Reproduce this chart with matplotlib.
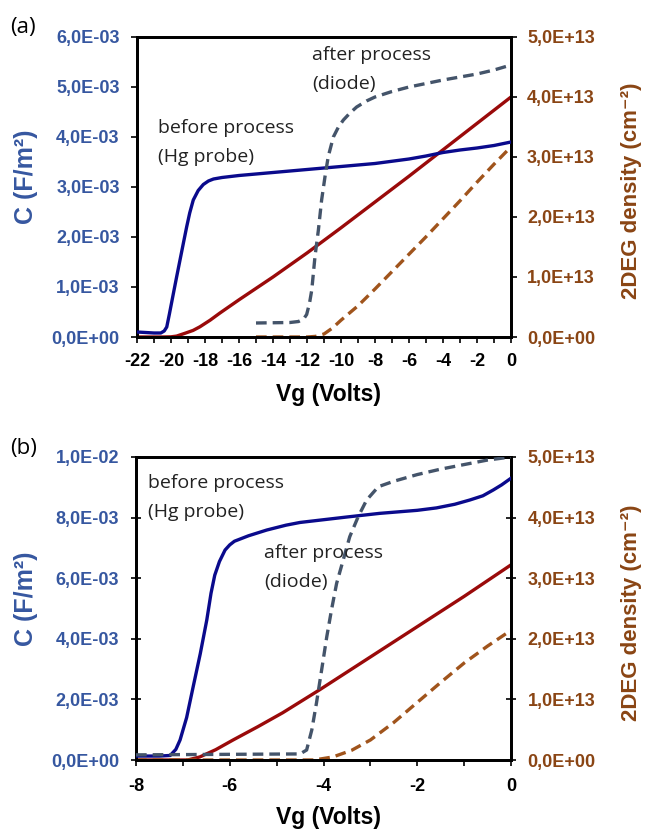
import matplotlib.pyplot as plt
from matplotlib.ticker import MultipleLocator, FuncFormatter

plt.rcParams['font.family'] = ['Liberation Sans', 'DejaVu Sans']
plt.rcParams['font.weight'] = 'bold'

# ---- panel (a): C in 1e-3 F/m2, N in 1e13 cm-2 ----
a_hg_c_v = [-22, -21.5, -21, -20.6, -20.4, -20.25, -20.1, -19.86, -19.67, -19.47,
            -19.27, -19.08, -18.9, -18.69, -18.4, -18.1, -17.8, -17.5, -17, -16,
            -14, -12, -10, -8, -6, -5, -4, -3, -2, -1, 0]
a_hg_c = [0.10, 0.09, 0.08, 0.08, 0.12, 0.2, 0.45, 0.87, 1.2, 1.54,
          1.88, 2.2, 2.48, 2.74, 2.93, 3.05, 3.12, 3.16, 3.19, 3.23,
          3.29, 3.35, 3.41, 3.47, 3.56, 3.62, 3.69, 3.74, 3.78, 3.83, 3.9]

a_di_c_v = [-15, -13, -12.5, -12.2, -12.02, -11.85, -11.72, -11.53, -11.33, -11.14,
            -10.94, -10.75, -10.45, -10.15, -9.86, -9.5, -9.08, -8.5, -8, -7,
            -6, -5, -4, -3, -2, -1, 0]
a_di_c = [0.28, 0.29, 0.31, 0.36, 0.45, 0.68, 0.94, 1.61, 2.14, 2.74,
          3.21, 3.61, 4.0, 4.2, 4.34, 4.47, 4.6, 4.72, 4.8, 4.91,
          5.0, 5.07, 5.14, 5.2, 5.26, 5.34, 5.44]

a_hg_n_v = [-22, -20.5, -20, -19.67, -19.2, -18.7, -18.3, -17.7, -17.12,
            -16, -14, -12, -10, -8, -6, -4, -2, 0]
a_hg_n = [0, 0, 0.003, 0.015, 0.06, 0.11, 0.17, 0.28, 0.4,
          0.62, 1.0, 1.4, 1.82, 2.25, 2.68, 3.12, 3.56, 4.0]

a_di_n_v = [-15, -12, -11.5, -11, -10.5, -10, -9, -8, -7, -6,
            -5, -4, -3, -2, -1, 0]
a_di_n = [0, 0, 0.01, 0.05, 0.15, 0.28, 0.52, 0.8, 1.09, 1.38,
          1.67, 1.97, 2.27, 2.58, 2.88, 3.17]

# ---- panel (b) ----
b_hg_c_v = [-8, -7.5, -7.27, -7.15, -7.06, -6.92, -6.78, -6.63, -6.49, -6.4,
            -6.32, -6.22, -6.1, -6.0, -5.9, -5.6, -5.21, -4.8, -4.5, -4,
            -3.5, -2.8, -2, -1.59, -1.2, -0.88, -0.6, -0.38, -0.2, 0]
b_hg_c = [0.13, 0.13, 0.15, 0.35, 0.66, 1.4, 2.42, 3.5, 4.62, 5.5,
          6.1, 6.55, 6.93, 7.1, 7.22, 7.4, 7.59, 7.75, 7.84, 7.93,
          8.02, 8.14, 8.24, 8.32, 8.44, 8.58, 8.72, 8.91, 9.08, 9.3]

b_di_c_v = [-8, -4.5, -4.36, -4.25, -4.15, -4.04, -3.93, -3.83, -3.72, -3.58,
            -3.44, -3.26, -3.08, -2.83, -2.5, -2, -1.5, -1, -0.5, 0]
b_di_c = [0.17, 0.2, 0.33, 0.99, 1.88, 2.97, 4.07, 4.95, 5.83, 6.6,
          7.37, 8.03, 8.58, 9.02, 9.2, 9.42, 9.6, 9.75, 9.9, 10.0]

b_hg_n_v = [-8, -6.9, -6.64, -6.3, -5.93, -5.4, -4.87, -4.08, -3, -2, -1, 0]
b_hg_n = [0, 0, 0.05, 0.17, 0.33, 0.55, 0.78, 1.16, 1.7, 2.2, 2.7, 3.22]

b_di_n_v = [-8, -4.2, -3.8, -3.4, -3, -2.5, -2, -1.5, -1, -0.5, 0]
b_di_n = [0, 0, 0.05, 0.16, 0.33, 0.62, 0.95, 1.28, 1.6, 1.88, 2.14]

# colours
c_blue = '#0a0a8c'
c_gray = '#44546a'
c_red = '#9a0a0a'
c_brown = '#a0541c'
lab_blue = '#3657a0'
lab_brown = '#8a4514'
txt_col = '#222222'

W, H = 646, 830


def px(x, y):
    return x / W, 1 - y / H


def sci_fmt(x, pos):
    return ('%.1E' % x).replace('.', ',')


def make_panel(box, xlim, cmax, cstep, data, tickdir, pads):
    left, top, right, bottom = box
    ax = fig.add_axes([left / W, 1 - bottom / H, (right - left) / W, (bottom - top) / H])
    ax2 = ax.twinx()
    hg_c_v, hg_c, di_c_v, di_c, hg_n_v, hg_n, di_n_v, di_n = data

    ax.plot(hg_c_v, [v * 1e-3 for v in hg_c], color=c_blue, lw=2.4, zorder=3)
    ax.plot(di_c_v, [v * 1e-3 for v in di_c], color=c_gray, lw=2.4,
            dashes=(3.2, 1.8), zorder=3)
    ax2.plot(hg_n_v, [v * 1e13 for v in hg_n], color=c_red, lw=2.4)
    ax2.plot(di_n_v, [v * 1e13 for v in di_n], color=c_brown, lw=2.4,
             dashes=(3.2, 1.8))

    ax.set_xlim(*xlim)
    ax.set_ylim(0, cmax)
    ax2.set_ylim(0, 5e13)
    ax.set_zorder(ax2.get_zorder() + 1)
    ax.patch.set_visible(False)

    ax.xaxis.set_major_locator(MultipleLocator(2))
    ax.xaxis.set_minor_locator(MultipleLocator(1))
    ax.yaxis.set_major_locator(MultipleLocator(cstep))
    ax2.yaxis.set_major_locator(MultipleLocator(1e13))
    ax.yaxis.set_major_formatter(FuncFormatter(sci_fmt))
    ax2.yaxis.set_major_formatter(FuncFormatter(sci_fmt))
    ax.xaxis.set_major_formatter(FuncFormatter(lambda x, p: '%d' % x))

    ax.tick_params(axis='x', which='both', direction='out', length=4, width=1.2,
                   pad=pads[0], labelsize=13)
    ylen = 7 if tickdir == 'inout' else 4
    ax.tick_params(axis='y', direction=tickdir, length=ylen, width=1.2,
                   pad=pads[1], labelsize=13, labelcolor=lab_blue)
    ax2.tick_params(axis='y', direction=tickdir, length=ylen, width=1.2,
                    pad=pads[2], labelsize=13, labelcolor=lab_brown)

    for a in (ax, ax2):
        for sp in a.spines.values():
            sp.set_linewidth(2)
            sp.set_color('black')
    return ax, ax2


def axis_labels(vg_y, c_y, n_y):
    fig.text(*px(329, vg_y), 'Vg (Volts)', size=16.5, weight='bold',
             ha='center', va='center')
    fig.text(*px(26, c_y), 'C (F/m²)', size=18, weight='bold', color=lab_blue,
             rotation=90, ha='center', va='center')
    fig.text(*px(632, n_y), '2DEG density (cm⁻²)', size=16, weight='bold',
             color=lab_brown, rotation=90, ha='center', va='center')


def note(x, y, lines):
    for i, s in enumerate(lines):
        fig.text(*px(x, y + 29 * i), s, family='Open Sans', weight='normal',
                 size=14, color=txt_col, ha='left', va='baseline')


fig = plt.figure(figsize=(W / 100, H / 100), dpi=100)

make_panel((137, 37, 511, 337), (-22, 0), 6e-3, 1e-3,
           (a_hg_c_v, a_hg_c, a_di_c_v, a_di_c, a_hg_n_v, a_hg_n, a_di_n_v, a_di_n),
           'out', (7.5, 8.5, 7.5))
make_panel((136, 457, 511, 760), (-8, 0), 1e-2, 2e-3,
           (b_hg_c_v, b_hg_c, b_di_c_v, b_di_c, b_hg_n_v, b_hg_n, b_di_n_v, b_di_n),
           'inout', (9, 8.5, 8.5))

axis_labels(395, 177, 191)
axis_labels(817, 599, 613)

note(158, 133, ['before process', '(Hg probe)'])
note(312, 60, ['after process', '(diode)'])
note(148, 488, ['before process', '(Hg probe)'])
note(264, 558, ['after process', '(diode)'])

fig.text(*px(10, 27), '(a)', family='Open Sans', weight='normal', size=16,
         ha='left', va='center')
fig.text(*px(10, 448), '(b)', family='Open Sans', weight='normal', size=16,
         ha='left', va='center')

plt.savefig('out.png', dpi=100)
